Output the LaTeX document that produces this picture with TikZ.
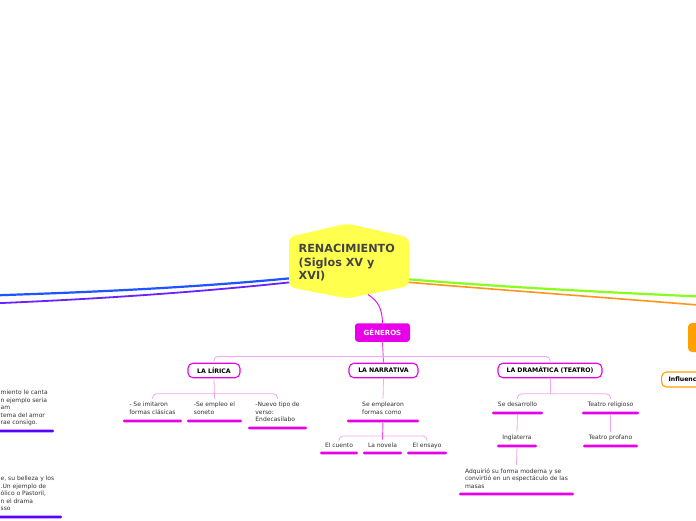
\documentclass[tikz,border=0pt]{standalone}
\usepackage{fontspec}
\setmainfont{DejaVu Sans}
\usetikzlibrary{calc}
\definecolor{hexyellow}{RGB}{255,255,77}
\definecolor{mag}{RGB}{232,0,232}
\definecolor{magc}{RGB}{236,70,236}
\definecolor{pinkc}{RGB}{245,165,245}
\definecolor{barpurple}{RGB}{90,0,255}
\definecolor{lblue}{RGB}{30,85,255}
\definecolor{lpurple}{RGB}{105,35,255}
\definecolor{lgreen}{RGB}{135,255,25}
\definecolor{lorange}{RGB}{255,150,25}
\definecolor{norange}{RGB}{255,160,0}
\definecolor{txt}{RGB}{50,50,50}
\definecolor{titletxt}{RGB}{68,68,68}
\begin{document}
\begin{tikzpicture}[x=1pt,y=-1pt,
  small/.style={font=\fontsize{6}{7.5}\selectfont},
  leaf/.style={small, text=txt, inner sep=0pt, outer xsep=0pt, outer ysep=3.5pt, anchor=north},
  barm/.style={fill=mag, draw=none, inner sep=0pt, minimum height=2.6pt, rounded corners=1.2pt},
  barp/.style={barm, fill=barpurple},
  catbox/.style={draw=mag, line width=1.1pt, fill=white, rounded corners=5pt, minimum height=14.5pt, inner sep=0pt, font=\fontsize{6.2}{7}\selectfont\bfseries, text=black},
  pinkline/.style={draw=pinkc, line width=0.8pt},
  magline/.style={draw=magc, line width=0.9pt},
]
\clip (0,0) rectangle (696,520);
\fill[white] (0,0) rectangle (696,520);

% main branches
\coordinate (hL1) at (293,278);
\coordinate (hL2) at (293,282);
\coordinate (hR1) at (405,279);
\coordinate (hR2) at (405,282);
\coordinate (bL1) at (-10,295.5);
\coordinate (bL2) at (-10,303.5);
\coordinate (bR1) at (710,297);
\coordinate (bR2) at (710,306);
\draw[lblue, line width=2.2pt] (hL1) .. controls (200,287) and (100,292) .. (bL1);
\draw[lpurple, line width=1.8pt] (hL2) .. controls (200,292) and (100,299) .. (bL2);
\draw[lgreen, line width=2.2pt] (hR1) .. controls (500,287) and (600,292) .. (bR1);
\draw[lorange, line width=1.6pt] (hR2) .. controls (500,290) and (600,297) .. (bR2);

% central hexagon
\fill[hexyellow, rounded corners=6pt] (289,237) -- (347,223.5) -- (409,237.5) -- (409,286) -- (347,298.5) -- (289,287) -- cycle;
\node[anchor=north west, inner sep=0pt, align=left, font=\fontsize{11.2}{13.5}\selectfont\bfseries, text=titletxt] (title) at (298.5,244) {RENACIMIENTO\\(Siglos XV y\\XVI)};
\coordinate (hexS) at (368,294.5);

% GENEROS
\node[fill=mag, rounded corners=3pt, minimum width=55pt, minimum height=18.5pt, inner sep=0pt, text=white, font=\fontsize{7}{8}\selectfont\bfseries] (gen) at (382.5,332.5) {GÉNEROS};
\draw[mag, line width=0.9pt] (hexS) .. controls (379,302) and (382,309) .. (gen.north);

% categories
\node[catbox, minimum width=52pt] (lir) at (214,370.5) {LA LÍRICA};
\node[catbox, minimum width=69pt] (nar) at (383.5,370.5) {LA NARRATIVA};
\node[catbox, minimum width=104pt] (dram) at (550,370.5) {LA DRAMÁTICA (TEATRO)};

\draw[magline] (gen.south) -- (nar.north);
\draw[pinkline, rounded corners=4pt] (lir.north) |- ($(gen.south)+(0,14.5)$) -| (dram.north);

% Lirica leaves
\node[leaf, align=left] (l1) at (152.5,398.5) {- Se imitaron\\formas clásicas};
\node[barm, minimum width=59pt] (l1b) at (152.5,421) {};
\node[leaf, align=left] (l2) at (214.5,398.5) {-Se empleo el\\soneto};
\node[barm, minimum width=55pt] (l2b) at (214.5,421) {};
\node[leaf, align=left] (l3) at (277.5,398.5) {-Nuevo tipo de\\verso:\\Endecasílabo};
\node[barm, minimum width=59pt] (l3b) at (277.5,428) {};
\draw[pinkline] (lir.south) -- (l2.north);
\draw[pinkline, rounded corners=4pt] (l1.north) |- ($(lir.south)+(0,15.5)$) -| (l3.north);

% Narrativa leaves
\node[leaf, align=left] (n0) at (383,398.5) {Se emplearon\\formas como};
\node[barm, minimum width=72pt] (n0b) at (383,421) {};
\node[leaf] (n1) at (339,439.5) {El cuento};
\node[barm, minimum width=38pt] (n1b) at (339,453) {};
\node[leaf] (n2) at (382.5,439.5) {La novela};
\node[barm, minimum width=39pt] (n2b) at (382.5,453) {};
\node[leaf] (n3) at (427,439.5) {El ensayo};
\node[barm, minimum width=40pt] (n3b) at (427,453) {};
\draw[pinkline] (nar.south) -- (n0.north);
\draw[magline] (n0b) -- (n2.north);
\draw[pinkline, rounded corners=4pt] (n1.north) |- ($(n0b.center)+(0,15)$) -| (n3.north);

% Dramatica leaves
\node[leaf] (d1) at (517.5,398.5) {Se desarrollo};
\node[barm, minimum width=51pt] (d1b) at (517.5,413) {};
\node[leaf] (d2) at (610.5,398.5) {Teatro religioso};
\node[barm, minimum width=57pt] (d2b) at (610.5,413) {};
\node[leaf] (d3) at (517,431.5) {Inglaterra};
\node[barm, minimum width=40pt] (d3b) at (517,446) {};
\node[leaf] (d4) at (610.5,431.5) {Teatro profano};
\node[barm, minimum width=55pt] (d4b) at (610.5,446) {};
\node[leaf, align=left] (d5) at (516.5,465) {Adquirió su forma moderna y se\\convirtió en un espectáculo de las\\masas};
\node[barm, minimum width=115pt] (d5b) at (516.5,494) {};
\draw[pinkline] (dram.south) -- ($(dram.south)+(0,15.5)$);
\draw[pinkline, rounded corners=4pt] (d1.north) |- ($(dram.south)+(0,15.5)$) -| (d2.north);
\draw[pinkline] (d1b) -- (d3.north);
\draw[pinkline] (d2b) -- (d4.north);
\draw[pinkline] (d3b) -- (d5.north);

% left cut-off blocks
\node[small, text=txt, inner sep=0pt, anchor=north west, align=left] (t1) at (0.5,390) {miento le canta\\n ejemplo seria\\am\\tema del amor\\rae consigo.};
\node[barp, minimum width=64pt] (t1b) at (22,431) {};
\node[small, text=txt, inner sep=0pt, anchor=north west, align=left] (t2) at (0.5,476) {e, su belleza y los\\.Un ejemplo de\\ólico o Pastoril,\\n el drama\\sso};
\node[barp, minimum width=72pt] (t2b) at (26,517) {};

% right cut-off nodes
\node[fill=norange, rounded corners=4pt, minimum width=40pt, minimum height=29pt, inner sep=0pt] (rnode) at (708,337.5) {};
\node[draw=norange, line width=1.1pt, fill=white, rounded corners=5pt, minimum height=15pt, anchor=west, inner xsep=7pt, inner ysep=0pt, font=\fontsize{6.2}{7}\selectfont\bfseries, text=black] (infl) at (661,379.5) {Influencia};
\end{tikzpicture}
\end{document}
